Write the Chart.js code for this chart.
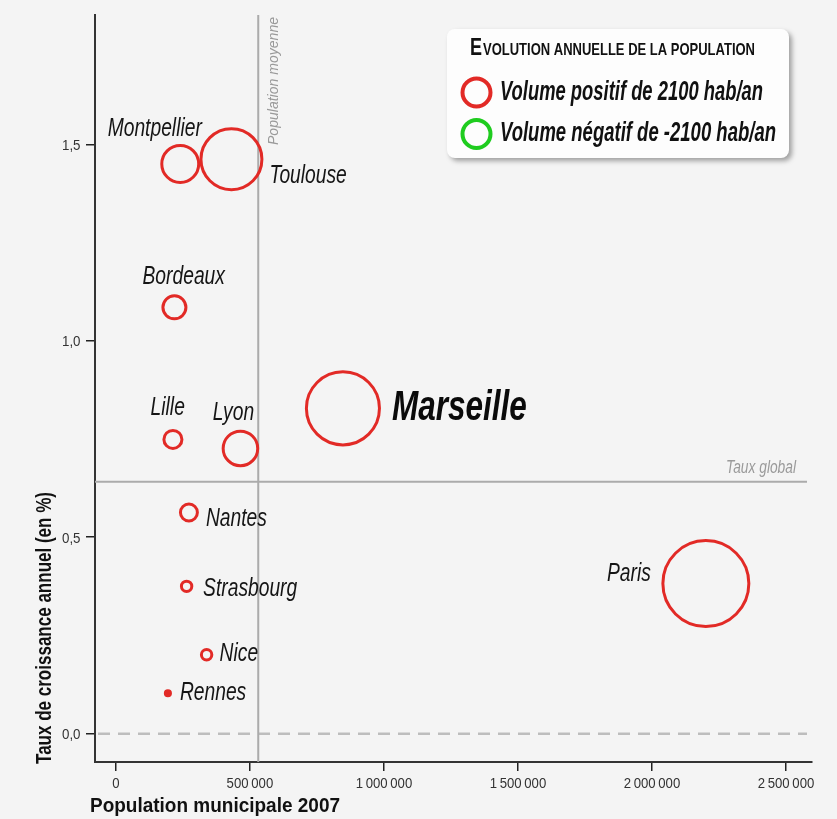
<!DOCTYPE html>
<html><head><meta charset="utf-8">
<script src="https://cdn.jsdelivr.net/npm/chart.js@4"></script>
<style>html,body{margin:0;padding:0;background:#f4f4f4;overflow:hidden}</style>
</head><body>
<canvas id="c" width="837" height="819"></canvas>
<script>
// ---- data ----
const cities     = ['Paris','Marseille','Lyon','Toulouse','Nice','Nantes','Strasbourg','Montpellier','Bordeaux','Lille','Rennes'];
const population = [2201000, 847000, 464600, 431000, 338400, 272400, 263800, 240000, 218300, 212700, 194000];
const growthRate = [0.382, 0.828, 0.726, 1.462, 0.201, 0.563, 0.375, 1.450, 1.085, 0.749, 0.103];
const volume     = [19800, 14300, 3200, 9950, 290, 770, 290, 3650, 1420, 870, 70];
const xTicks = [0, 500000, 1000000, 1500000, 2000000, 2500000];
const yTicks = [0, 0.5, 1.0, 1.5];
const meanPopulation = 531000;
const globalRate = 0.641;
const legendVolume = 2100;

// ---- styles / layout ----
const RED = '#e22a26', GREEN = '#1fcc1f';
const REF_R = 14;
const labelPlacement = { // align, dx, dy (baseline) relative to bubble centre
  Paris:['right',-55,-3], Marseille:['left',49,11.7], Lyon:['center',-7,-28.3],
  Toulouse:['left',38,23.3], Nice:['left',13,6.7], Nantes:['left',17,13.7],
  Strasbourg:['left',16.5,10], Montpellier:['center',-25.5,-27.7], Bordeaux:['center',9.3,-23.7],
  Lille:['center',-5.2,-24.3], Rennes:['left',12,6.3]
};
const FAM = "'Liberation Sans', Arial, sans-serif";

function drawText(ctx, text, x, y, font, opts) {
  ctx.save();
  ctx.font = font; ctx.fillStyle = opts.color || '#111';
  ctx.textBaseline = 'alphabetic'; ctx.textAlign = 'left';
  const w = ctx.measureText(text).width;
  const s = opts.width ? opts.width / w : (opts.scale || 1);
  ctx.translate(x, y);
  if (opts.rotate) ctx.rotate(opts.rotate);
  ctx.scale(s, 1);
  const a = opts.align || 'left';
  const ox = a === 'right' ? -w : a === 'center' ? -w / 2 : 0;
  ctx.fillText(text, ox, 0);
  ctx.restore();
}

const fmtX = v => String(v).replace(/\B(?=(\d{3})+(?!\d))/g, '\u2009');
const fmtY = v => v.toFixed(1).replace('.', ',');

const decor = {
  id: 'decor',
  beforeDatasetsDraw(chart) {
    const {ctx, chartArea: ca, scales: {x, y}} = chart;
    ctx.save();
    // zero dashed line
    const y0 = y.getPixelForValue(0);
    ctx.strokeStyle = '#bdbdbd'; ctx.lineWidth = 2.5; ctx.setLineDash([12, 8]);
    ctx.beginPath(); ctx.moveTo(ca.left + 3, y0); ctx.lineTo(ca.right - 5, y0); ctx.stroke();
    ctx.setLineDash([]);
    // global rate line
    const yg = y.getPixelForValue(globalRate);
    ctx.strokeStyle = '#ababab'; ctx.lineWidth = 2;
    ctx.beginPath(); ctx.moveTo(ca.left, yg); ctx.lineTo(ca.right - 5, yg); ctx.stroke();
    // mean population line
    const xm = x.getPixelForValue(meanPopulation);
    ctx.beginPath(); ctx.moveTo(xm, ca.top); ctx.lineTo(xm, ca.bottom); ctx.stroke();
    ctx.restore();
    drawText(ctx, 'Taux global', ca.right - 16, yg - 8.5, 'italic 18px ' + FAM, {align:'right', width:70, color:'#9a9a9a'});
    drawText(ctx, 'Population moyenne', xm + 20, ca.top + 130, 'italic 14px ' + FAM, {rotate:-Math.PI/2, width:128, color:'#9a9a9a'});
    // tick labels (condensed), placed with the library's scales
    xTicks.forEach(v => drawText(ctx, fmtX(v), x.getPixelForValue(v), ca.bottom + 25.5, '15.5px ' + FAM, {align:'center', scale:0.85, color:'#333'}));
    yTicks.forEach(v => drawText(ctx, fmtY(v), ca.left - 14.5, y.getPixelForValue(v) + 5.6, '15.5px ' + FAM, {align:'right', scale:0.86, color:'#333'}));
  },
  afterDatasetsDraw(chart) {
    const {ctx} = chart;
    const meta = chart.getDatasetMeta(0);
    cities.forEach((c, i) => {
      const el = meta.data[i];
      const [al, dx, dy] = labelPlacement[c];
      if (c === 'Marseille')
        drawText(ctx, c, el.x + dx, el.y + dy, 'italic bold 42px ' + FAM, {align:al, scale:0.75, color:'#0a0a0a'});
      else
        drawText(ctx, c, el.x + dx, el.y + dy, 'italic 26px ' + FAM, {align:al, scale:0.74, color:'#151515'});
    });
    // axis titles
    drawText(ctx, 'Population municipale 2007', 90, 812, 'bold 20px ' + FAM, {width:250, color:'#111'});
    drawText(ctx, 'Taux de croissance annuel (en %)', 51, 764, 'bold 22px ' + FAM, {rotate:-Math.PI/2, width:272, color:'#111'});
    // legend box
    ctx.save();
    ctx.shadowColor = 'rgba(0,0,0,0.35)'; ctx.shadowBlur = 5; ctx.shadowOffsetX = 3; ctx.shadowOffsetY = 3;
    ctx.fillStyle = '#fdfdfd';
    ctx.beginPath(); ctx.roundRect(447, 29, 342, 129, 8); ctx.fill();
    ctx.restore();
    drawText(ctx, 'E', 470, 55, 'bold 23px ' + FAM, {width:12, color:'#111'});
    drawText(ctx, 'VOLUTION ANNUELLE DE LA POPULATION', 483, 55, 'bold 16.3px ' + FAM, {width:272, color:'#111'});
    const rLeg = REF_R * Math.sqrt(legendVolume / legendVolume);
    ctx.save(); ctx.lineWidth = 4;
    ctx.strokeStyle = RED; ctx.beginPath(); ctx.arc(476.5, 92.5, rLeg, 0, Math.PI*2); ctx.stroke();
    ctx.strokeStyle = GREEN; ctx.beginPath(); ctx.arc(476.5, 134, rLeg, 0, Math.PI*2); ctx.stroke();
    ctx.restore();
    drawText(ctx, 'Volume positif de ' + legendVolume + ' hab/an', 500, 100, 'italic bold 28px ' + FAM, {width:263, color:'#111'});
    drawText(ctx, 'Volume négatif de -' + legendVolume + ' hab/an', 500, 141, 'italic bold 28px ' + FAM, {width:276, color:'#111'});
  }
};

const zeroPad = s => { s.paddingTop = 0; s.paddingBottom = 0; s.paddingLeft = 0; s.paddingRight = 0; };

new Chart(document.getElementById('c'), {
  type: 'bubble',
  data: {
    datasets: [{
      data: cities.map((c, i) => ({x: population[i], y: growthRate[i], r: REF_R * Math.sqrt(volume[i] / legendVolume)})),
      backgroundColor: ctx => (ctx.raw && ctx.raw.r < 3) ? RED : 'rgba(0,0,0,0)',
      borderColor: RED, borderWidth: 3,
      hoverBorderWidth: 3, hoverRadius: 0, clip: false
    }]
  },
  options: {
    responsive: false, animation: false, devicePixelRatio: 1,
    layout: {autoPadding: false, padding: {left: 0, right: 25, top: 15, bottom: 0}},
    plugins: {legend: {display: false}, tooltip: {enabled: false}, title: {display: false}},
    events: [],
    scales: {
      x: {
        type: 'linear', min: -78000, max: 2597000,
        afterBuildTicks: s => { s.ticks = xTicks.map(v => ({value: v})); },
        afterFit: s => { s.height = 57; zeroPad(s); },
        ticks: {display: false},
        grid: {drawOnChartArea: false, tickLength: 9, color: '#222', lineWidth: 1.5},
        border: {color: '#333', width: 2}
      },
      y: {
        type: 'linear', min: -0.072, max: 1.829,
        afterBuildTicks: s => { s.ticks = yTicks.map(v => ({value: v})); },
        afterFit: s => { s.width = 95; zeroPad(s); },
        ticks: {display: false},
        grid: {drawOnChartArea: false, tickLength: 9, color: '#222', lineWidth: 1.5},
        border: {color: '#333', width: 2}
      }
    }
  },
  plugins: [decor]
});
</script>
</body></html>
